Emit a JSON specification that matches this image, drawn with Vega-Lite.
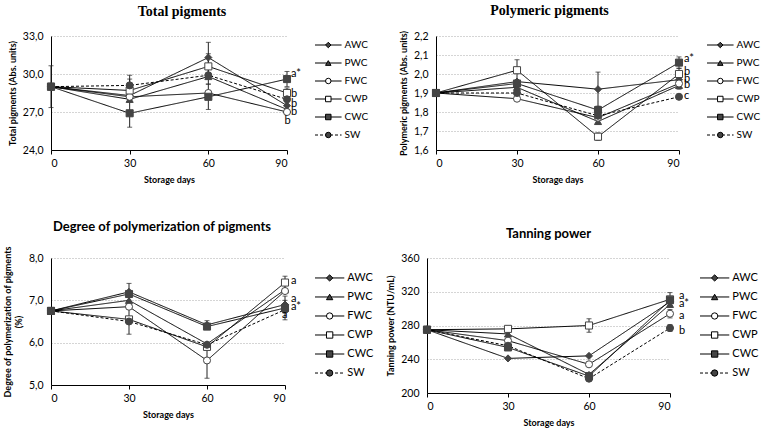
{
 "$schema": "https://vega.github.io/schema/vega-lite/v6.json",
 "background": "white",
 "padding": {"left": 3, "top": 4, "right": 0, "bottom": 0},
 "datasets": {
  "tp": [
   {"series":"AWC","day":0,"v":29.0,"err":1.65},{"series":"AWC","day":30,"v":28.3,"err":0},{"series":"AWC","day":60,"v":31.3,"err":1.2},{"series":"AWC","day":90,"v":27.5,"err":0.3},
   {"series":"PWC","day":0,"v":29.0,"err":0},{"series":"PWC","day":30,"v":28.0,"err":0},{"series":"PWC","day":60,"v":29.8,"err":0.6},{"series":"PWC","day":90,"v":27.2,"err":0},
   {"series":"FWC","day":0,"v":29.0,"err":0},{"series":"FWC","day":30,"v":28.2,"err":0},{"series":"FWC","day":60,"v":28.5,"err":0},{"series":"FWC","day":90,"v":27.0,"err":0},
   {"series":"CWP","day":0,"v":29.0,"err":0},{"series":"CWP","day":30,"v":28.7,"err":0.9},{"series":"CWP","day":60,"v":30.6,"err":1.0},{"series":"CWP","day":90,"v":28.5,"err":0.4},
   {"series":"CWC","day":0,"v":29.0,"err":0},{"series":"CWC","day":30,"v":26.9,"err":1.1},{"series":"CWC","day":60,"v":28.2,"err":1.0},{"series":"CWC","day":90,"v":29.6,"err":0.6},
   {"series":"SW","day":0,"v":29.0,"err":0},{"series":"SW","day":30,"v":29.1,"err":0.8},{"series":"SW","day":60,"v":29.9,"err":0},{"series":"SW","day":90,"v":28.0,"err":0}
  ],
  "pp": [
   {"series":"AWC","day":0,"v":1.90,"err":0},{"series":"AWC","day":30,"v":1.96,"err":0},{"series":"AWC","day":60,"v":1.92,"err":0.09},{"series":"AWC","day":90,"v":1.97,"err":0},
   {"series":"PWC","day":0,"v":1.90,"err":0},{"series":"PWC","day":30,"v":1.93,"err":0},{"series":"PWC","day":60,"v":1.75,"err":0},{"series":"PWC","day":90,"v":1.94,"err":0.02},
   {"series":"FWC","day":0,"v":1.90,"err":0},{"series":"FWC","day":30,"v":1.87,"err":0},{"series":"FWC","day":60,"v":1.77,"err":0},{"series":"FWC","day":90,"v":1.95,"err":0},
   {"series":"CWP","day":0,"v":1.90,"err":0},{"series":"CWP","day":30,"v":2.02,"err":0.055},{"series":"CWP","day":60,"v":1.67,"err":0.02},{"series":"CWP","day":90,"v":2.00,"err":0.03},
   {"series":"CWC","day":0,"v":1.90,"err":0},{"series":"CWC","day":30,"v":1.95,"err":0},{"series":"CWC","day":60,"v":1.81,"err":0.02},{"series":"CWC","day":90,"v":2.06,"err":0.03},
   {"series":"SW","day":0,"v":1.90,"err":0},{"series":"SW","day":30,"v":1.90,"err":0},{"series":"SW","day":60,"v":1.78,"err":0},{"series":"SW","day":90,"v":1.88,"err":0}
  ],
  "dp": [
   {"series":"AWC","day":0,"v":6.75,"err":0},{"series":"AWC","day":30,"v":7.20,"err":0.2},{"series":"AWC","day":60,"v":6.42,"err":0.1},{"series":"AWC","day":90,"v":6.90,"err":0.1},
   {"series":"PWC","day":0,"v":6.75,"err":0},{"series":"PWC","day":30,"v":7.00,"err":0},{"series":"PWC","day":60,"v":5.97,"err":0},{"series":"PWC","day":90,"v":7.25,"err":0},
   {"series":"FWC","day":0,"v":6.75,"err":0},{"series":"FWC","day":30,"v":6.85,"err":0},{"series":"FWC","day":60,"v":5.58,"err":0.42},{"series":"FWC","day":90,"v":7.22,"err":0},
   {"series":"CWP","day":0,"v":6.75,"err":0},{"series":"CWP","day":30,"v":6.55,"err":0},{"series":"CWP","day":60,"v":5.90,"err":0},{"series":"CWP","day":90,"v":7.42,"err":0.15},
   {"series":"CWC","day":0,"v":6.75,"err":0},{"series":"CWC","day":30,"v":7.15,"err":0},{"series":"CWC","day":60,"v":6.38,"err":0},{"series":"CWC","day":90,"v":6.82,"err":0.28},
   {"series":"SW","day":0,"v":6.75,"err":0},{"series":"SW","day":30,"v":6.50,"err":0.3},{"series":"SW","day":60,"v":5.95,"err":0},{"series":"SW","day":90,"v":6.78,"err":0}
  ],
  "tn": [
   {"series":"AWC","day":0,"v":275,"err":0},{"series":"AWC","day":30,"v":241,"err":0},{"series":"AWC","day":60,"v":244,"err":0},{"series":"AWC","day":90,"v":308,"err":0},
   {"series":"PWC","day":0,"v":275,"err":0},{"series":"PWC","day":30,"v":270,"err":0},{"series":"PWC","day":60,"v":222,"err":0},{"series":"PWC","day":90,"v":305,"err":0},
   {"series":"FWC","day":0,"v":275,"err":0},{"series":"FWC","day":30,"v":262,"err":0},{"series":"FWC","day":60,"v":234,"err":0},{"series":"FWC","day":90,"v":294,"err":5},
   {"series":"CWP","day":0,"v":275,"err":0},{"series":"CWP","day":30,"v":276,"err":0},{"series":"CWP","day":60,"v":280,"err":8},{"series":"CWP","day":90,"v":311,"err":8},
   {"series":"CWC","day":0,"v":275,"err":0},{"series":"CWC","day":30,"v":254,"err":0},{"series":"CWC","day":60,"v":220,"err":0},{"series":"CWC","day":90,"v":310,"err":0},
   {"series":"SW","day":0,"v":275,"err":0},{"series":"SW","day":30,"v":256,"err":0},{"series":"SW","day":60,"v":217,"err":0},{"series":"SW","day":90,"v":277,"err":4}
  ],
  "legend": [{"series":"AWC"},{"series":"PWC"},{"series":"FWC"},{"series":"CWP"},{"series":"CWC"},{"series":"SW"}]
 },
 "config": {
  "view": {"stroke": null},
  "font": "Lato",
  "axis": {"labelFont": "Lato", "labelFontSize": 10.5, "labelColor": "#000", "titleFont": "Lato", "titleFontSize": 9, "titleFontWeight": "bold", "titleColor": "#000", "domainColor": "#000", "tickColor": "#000", "gridColor": "#aaa", "gridDash": [1, 2]},
  "axisX": {"grid": false, "tickSize": 4, "labelPadding": 4, "titlePadding": 7},
  "axisY": {"ticks": false, "labelPadding": 8, "titlePadding": 5}
 },
 "spacing": 35,
 "bounds": "full",
 "vconcat": [
  {
   "spacing": 28,
   "bounds": "flush",
   "hconcat": [
    {
     "width": 236, "height": 114,
     "title": {"text": "Total pigments", "font": "Liberation Serif", "fontSize": 14, "fontWeight": "bold", "offset": 12, "dx": 13},
     "data": {"name": "tp"},
     "encoding": {
      "x": {"field": "day", "type": "quantitative", "scale": {"domain": [0, 90]}, "axis": {"values": [0, 30, 60, 90], "title": "Storage days"}},
      "y": {"field": "v", "type": "quantitative", "scale": {"domain": [24, 33]}, "axis": {"values": [24, 27, 30, 33], "title": "Total pigments (Abs. units)", "labelExpr": "replace(format(datum.value, '.1f'), '.', ',')"}}
     },
     "layer": [
      {"mark": {"type": "line", "color": "#000", "strokeWidth": 1}, "encoding": {"strokeDash": {"field": "series", "type": "nominal", "scale": {"domain": ["AWC","PWC","FWC","CWP","CWC","SW"], "range": [[1,0],[1,0],[1,0],[1,0],[1,0],[3,2]]}, "legend": null}}},
      {"transform": [{"filter": "datum.err > 0"}], "mark": {"type": "errorbar", "color": "#222", "ticks": true}, "encoding": {"yError": {"field": "err"}}},
      {"mark": {"type": "point", "filled": true, "opacity": 1, "size": 50, "stroke": "#444", "strokeWidth": 1}, "encoding": {
        "shape": {"field": "series", "type": "nominal", "scale": {"domain": ["AWC","PWC","FWC","CWP","CWC","SW"], "range": ["diamond","triangle-up","circle","square","square","circle"]}, "legend": null},
        "fill": {"field": "series", "type": "nominal", "scale": {"domain": ["AWC","PWC","FWC","CWP","CWC","SW"], "range": ["#444","#444","#fff","#fff","#444","#444"]}, "legend": null}}},
      {"data": {"values": [{"day":90,"v":30.0,"label":"a*"},{"day":90,"v":28.4,"label":"b"},{"day":90,"v":27.6,"label":"b"},{"day":90,"v":27.0,"label":"b"},{"day":87.5,"v":26.3,"label":"b"}]},
       "mark": {"type": "text", "align": "left", "dx": 4, "fontSize": 11, "color": "#000", "font": "Lato"}, "encoding": {"text": {"field": "label"}}}
     ]
    },
    {
     "width": 93, "height": 108,
     "data": {"name": "legend"},
     "encoding": {"y": {"field": "series", "type": "nominal", "scale": {"type": "point", "domain": ["AWC","PWC","FWC","CWP","CWC","SW"], "padding": 0.5}, "axis": null}},
     "layer": [
      {"mark": {"type": "rule", "color": "#000", "strokeWidth": 1}, "encoding": {"x": {"datum": 0, "type": "quantitative", "scale": {"domain": [0, 3.1]}, "axis": null}, "x2": {"datum": 1}, "strokeDash": {"field": "series", "type": "nominal", "scale": {"domain": ["AWC","PWC","FWC","CWP","CWC","SW"], "range": [[1,0],[1,0],[1,0],[1,0],[1,0],[3,2]]}, "legend": null}}},
      {"mark": {"type": "point", "filled": true, "opacity": 1, "size": 30, "stroke": "#000", "strokeWidth": 1}, "encoding": {"x": {"datum": 0.5, "type": "quantitative"},
        "shape": {"field": "series", "type": "nominal", "scale": {"domain": ["AWC","PWC","FWC","CWP","CWC","SW"], "range": ["diamond","triangle-up","circle","square","square","circle"]}, "legend": null},
        "fill": {"field": "series", "type": "nominal", "scale": {"domain": ["AWC","PWC","FWC","CWP","CWC","SW"], "range": ["#000","#000","#fff","#fff","#000","#000"]}, "legend": null}}},
      {"mark": {"type": "text", "align": "left", "dx": 3, "fontSize": 10, "color": "#000", "font": "Lato"}, "encoding": {"x": {"datum": 1, "type": "quantitative"}, "text": {"field": "series"}}}
     ]
    },
    {
     "width": 243, "height": 114,
     "title": {"text": "Polymeric pigments", "font": "Liberation Serif", "fontSize": 14, "fontWeight": "bold", "offset": 12, "dx": -8},
     "data": {"name": "pp"},
     "encoding": {
      "x": {"field": "day", "type": "quantitative", "scale": {"domain": [0, 90]}, "axis": {"values": [0, 30, 60, 90], "title": "Storage days"}},
      "y": {"field": "v", "type": "quantitative", "scale": {"domain": [1.6, 2.2]}, "axis": {"values": [1.6, 1.7, 1.8, 1.9, 2.0, 2.1, 2.2], "title": "Polymeric pigments (Abs. units)", "labelExpr": "replace(format(datum.value, '.1f'), '.', ',')"}}
     },
     "layer": [
      {"mark": {"type": "line", "color": "#000", "strokeWidth": 1}, "encoding": {"strokeDash": {"field": "series", "type": "nominal", "scale": {"domain": ["AWC","PWC","FWC","CWP","CWC","SW"], "range": [[1,0],[1,0],[1,0],[1,0],[1,0],[3,2]]}, "legend": null}}},
      {"transform": [{"filter": "datum.err > 0"}], "mark": {"type": "errorbar", "color": "#222", "ticks": true}, "encoding": {"yError": {"field": "err"}}},
      {"mark": {"type": "point", "filled": true, "opacity": 1, "size": 50, "stroke": "#444", "strokeWidth": 1}, "encoding": {
        "shape": {"field": "series", "type": "nominal", "scale": {"domain": ["AWC","PWC","FWC","CWP","CWC","SW"], "range": ["diamond","triangle-up","circle","square","square","circle"]}, "legend": null},
        "fill": {"field": "series", "type": "nominal", "scale": {"domain": ["AWC","PWC","FWC","CWP","CWC","SW"], "range": ["#444","#444","#fff","#fff","#444","#444"]}, "legend": null}}},
      {"data": {"values": [{"day":90,"v":2.08,"label":"a*"},{"day":90,"v":2.01,"label":"b"},{"day":90,"v":1.975,"label":"b"},{"day":90,"v":1.94,"label":"b"},{"day":90,"v":1.885,"label":"c"}]},
       "mark": {"type": "text", "align": "left", "dx": 5, "fontSize": 11, "color": "#000", "font": "Lato"}, "encoding": {"text": {"field": "label"}}}
     ]
    },
    {
     "width": 93, "height": 108,
     "data": {"name": "legend"},
     "encoding": {"y": {"field": "series", "type": "nominal", "scale": {"type": "point", "domain": ["AWC","PWC","FWC","CWP","CWC","SW"], "padding": 0.5}, "axis": null}},
     "layer": [
      {"mark": {"type": "rule", "color": "#000", "strokeWidth": 1}, "encoding": {"x": {"datum": 0, "type": "quantitative", "scale": {"domain": [0, 3.1]}, "axis": null}, "x2": {"datum": 1}, "strokeDash": {"field": "series", "type": "nominal", "scale": {"domain": ["AWC","PWC","FWC","CWP","CWC","SW"], "range": [[1,0],[1,0],[1,0],[1,0],[1,0],[3,2]]}, "legend": null}}},
      {"mark": {"type": "point", "filled": true, "opacity": 1, "size": 30, "stroke": "#000", "strokeWidth": 1}, "encoding": {"x": {"datum": 0.5, "type": "quantitative"},
        "shape": {"field": "series", "type": "nominal", "scale": {"domain": ["AWC","PWC","FWC","CWP","CWC","SW"], "range": ["diamond","triangle-up","circle","square","square","circle"]}, "legend": null},
        "fill": {"field": "series", "type": "nominal", "scale": {"domain": ["AWC","PWC","FWC","CWP","CWC","SW"], "range": ["#000","#000","#fff","#fff","#000","#000"]}, "legend": null}}},
      {"mark": {"type": "text", "align": "left", "dx": 3, "fontSize": 10, "color": "#000", "font": "Lato"}, "encoding": {"x": {"datum": 1, "type": "quantitative"}, "text": {"field": "series"}}}
     ]
    }
   ]
  },
  {
   "spacing": 30,
   "bounds": "flush",
   "hconcat": [
    {
     "width": 234, "height": 127,
     "title": {"text": "Degree of polymerization of pigments", "font": "Lato", "fontSize": 13, "fontWeight": "bold", "offset": 12, "dx": -6},
     "data": {"name": "dp"},
     "encoding": {
      "x": {"field": "day", "type": "quantitative", "scale": {"domain": [0, 90]}, "axis": {"values": [0, 30, 60, 90], "title": "Storage days"}},
      "y": {"field": "v", "type": "quantitative", "scale": {"domain": [5, 8]}, "axis": {"values": [5, 6, 7, 8], "title": ["Degree of polymerization of pigments", "(%)"], "labelExpr": "replace(format(datum.value, '.1f'), '.', ',')"}}
     },
     "layer": [
      {"mark": {"type": "line", "color": "#000", "strokeWidth": 1}, "encoding": {"strokeDash": {"field": "series", "type": "nominal", "scale": {"domain": ["AWC","PWC","FWC","CWP","CWC","SW"], "range": [[1,0],[1,0],[1,0],[1,0],[1,0],[3,2]]}, "legend": null}}},
      {"transform": [{"filter": "datum.err > 0"}], "mark": {"type": "errorbar", "color": "#222", "ticks": true}, "encoding": {"yError": {"field": "err"}}},
      {"mark": {"type": "point", "filled": true, "opacity": 1, "size": 50, "stroke": "#444", "strokeWidth": 1}, "encoding": {
        "shape": {"field": "series", "type": "nominal", "scale": {"domain": ["AWC","PWC","FWC","CWP","CWC","SW"], "range": ["diamond","triangle-up","circle","square","square","circle"]}, "legend": null},
        "fill": {"field": "series", "type": "nominal", "scale": {"domain": ["AWC","PWC","FWC","CWP","CWC","SW"], "range": ["#444","#444","#fff","#fff","#444","#444"]}, "legend": null}}},
      {"data": {"values": [{"day":90,"v":7.46,"label":"a"},{"day":90,"v":7.02,"label":"a"},{"day":90,"v":6.84,"label":"a*"},{"day":86.5,"v":6.66,"label":"a"}]},
       "mark": {"type": "text", "align": "left", "dx": 6, "fontSize": 11, "color": "#000", "font": "Lato"}, "encoding": {"text": {"field": "label"}}}
     ]
    },
    {
     "width": 82, "height": 127,
     "data": {"name": "legend"},
     "encoding": {"y": {"field": "series", "type": "nominal", "scale": {"type": "point", "domain": ["AWC","PWC","FWC","CWP","CWC","SW"], "padding": 0.84, "align": 0.625}, "axis": null}},
     "layer": [
      {"mark": {"type": "rule", "color": "#000", "strokeWidth": 1}, "encoding": {"x": {"datum": 0, "type": "quantitative", "scale": {"domain": [0, 2.73]}, "axis": null}, "x2": {"datum": 1}, "strokeDash": {"field": "series", "type": "nominal", "scale": {"domain": ["AWC","PWC","FWC","CWP","CWC","SW"], "range": [[1,0],[1,0],[1,0],[1,0],[1,0],[3,2]]}, "legend": null}}},
      {"mark": {"type": "point", "filled": true, "opacity": 1, "size": 40, "stroke": "#000", "strokeWidth": 1}, "encoding": {"x": {"datum": 0.5, "type": "quantitative"},
        "shape": {"field": "series", "type": "nominal", "scale": {"domain": ["AWC","PWC","FWC","CWP","CWC","SW"], "range": ["diamond","triangle-up","circle","square","square","circle"]}, "legend": null},
        "fill": {"field": "series", "type": "nominal", "scale": {"domain": ["AWC","PWC","FWC","CWP","CWC","SW"], "range": ["#000","#000","#fff","#fff","#000","#000"]}, "legend": null}}},
      {"mark": {"type": "text", "align": "left", "dx": 3, "fontSize": 11, "color": "#000", "font": "Lato"}, "encoding": {"x": {"datum": 1, "type": "quantitative"}, "text": {"field": "series"}}}
     ]
    },
    {
     "width": 243, "height": 135,
     "title": {"text": "Tanning power", "font": "Lato", "fontSize": 13, "fontWeight": "bold", "offset": 12},
     "data": {"name": "tn"},
     "encoding": {
      "x": {"field": "day", "type": "quantitative", "scale": {"domain": [0, 90]}, "axis": {"values": [0, 30, 60, 90], "title": "Storage days"}},
      "y": {"field": "v", "type": "quantitative", "scale": {"domain": [200, 360]}, "axis": {"values": [200, 240, 280, 320, 360], "title": "Tanning power (NTU/mL)", "format": "d"}}
     },
     "layer": [
      {"mark": {"type": "line", "color": "#000", "strokeWidth": 1}, "encoding": {"strokeDash": {"field": "series", "type": "nominal", "scale": {"domain": ["AWC","PWC","FWC","CWP","CWC","SW"], "range": [[1,0],[1,0],[1,0],[1,0],[1,0],[3,2]]}, "legend": null}}},
      {"transform": [{"filter": "datum.err > 0"}], "mark": {"type": "errorbar", "color": "#222", "ticks": true}, "encoding": {"yError": {"field": "err"}}},
      {"mark": {"type": "point", "filled": true, "opacity": 1, "size": 50, "stroke": "#444", "strokeWidth": 1}, "encoding": {
        "shape": {"field": "series", "type": "nominal", "scale": {"domain": ["AWC","PWC","FWC","CWP","CWC","SW"], "range": ["diamond","triangle-up","circle","square","square","circle"]}, "legend": null},
        "fill": {"field": "series", "type": "nominal", "scale": {"domain": ["AWC","PWC","FWC","CWP","CWC","SW"], "range": ["#444","#444","#fff","#fff","#444","#444"]}, "legend": null}}},
      {"data": {"values": [{"day":90,"v":315,"label":"a"},{"day":90,"v":305,"label":"a*"},{"day":90,"v":291,"label":"a"},{"day":90,"v":273,"label":"b"}]},
       "mark": {"type": "text", "align": "left", "dx": 9, "fontSize": 11, "color": "#000", "font": "Lato"}, "encoding": {"text": {"field": "label"}}}
     ]
    },
    {
     "width": 82, "height": 127,
     "data": {"name": "legend"},
     "encoding": {"y": {"field": "series", "type": "nominal", "scale": {"type": "point", "domain": ["AWC","PWC","FWC","CWP","CWC","SW"], "padding": 0.84, "align": 0.625}, "axis": null}},
     "layer": [
      {"mark": {"type": "rule", "color": "#000", "strokeWidth": 1}, "encoding": {"x": {"datum": 0, "type": "quantitative", "scale": {"domain": [0, 2.73]}, "axis": null}, "x2": {"datum": 1}, "strokeDash": {"field": "series", "type": "nominal", "scale": {"domain": ["AWC","PWC","FWC","CWP","CWC","SW"], "range": [[1,0],[1,0],[1,0],[1,0],[1,0],[3,2]]}, "legend": null}}},
      {"mark": {"type": "point", "filled": true, "opacity": 1, "size": 40, "stroke": "#000", "strokeWidth": 1}, "encoding": {"x": {"datum": 0.5, "type": "quantitative"},
        "shape": {"field": "series", "type": "nominal", "scale": {"domain": ["AWC","PWC","FWC","CWP","CWC","SW"], "range": ["diamond","triangle-up","circle","square","square","circle"]}, "legend": null},
        "fill": {"field": "series", "type": "nominal", "scale": {"domain": ["AWC","PWC","FWC","CWP","CWC","SW"], "range": ["#000","#000","#fff","#fff","#000","#000"]}, "legend": null}}},
      {"mark": {"type": "text", "align": "left", "dx": 3, "fontSize": 11, "color": "#000", "font": "Lato"}, "encoding": {"x": {"datum": 1, "type": "quantitative"}, "text": {"field": "series"}}}
     ]
    }
   ]
  }
 ]
}
